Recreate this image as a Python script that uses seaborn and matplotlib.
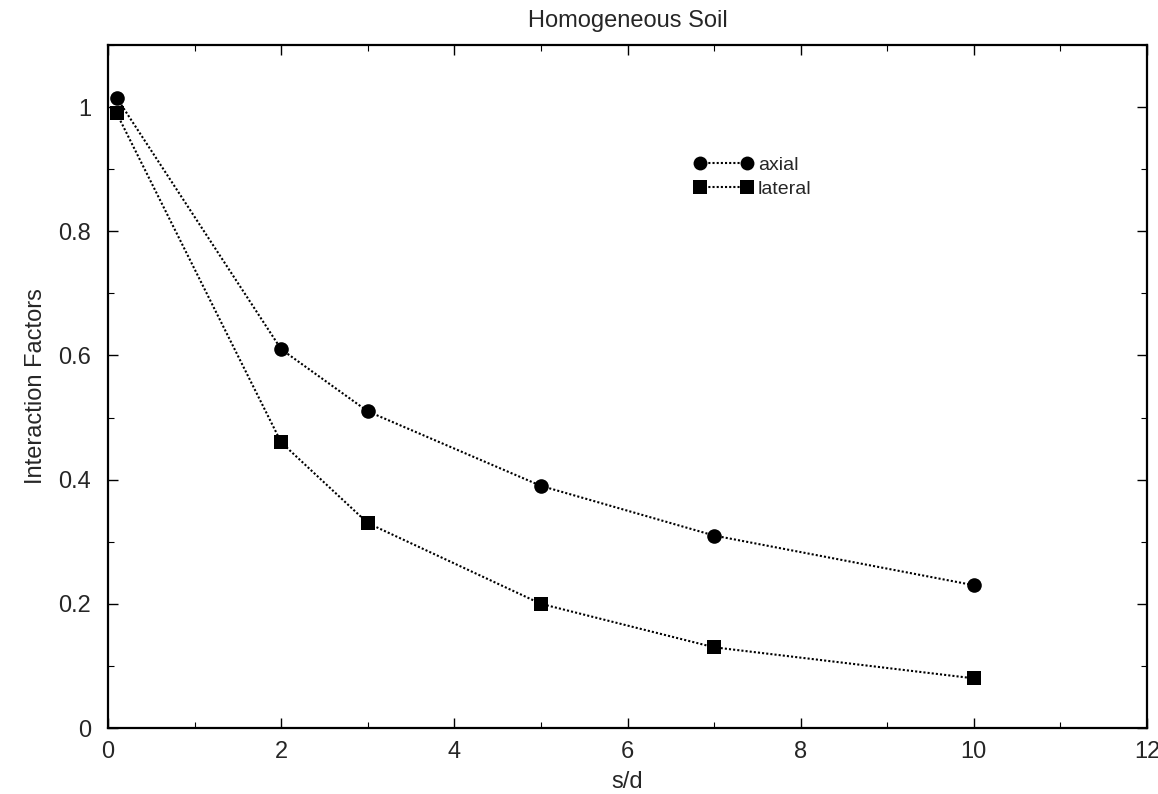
import matplotlib
matplotlib.use("Agg")
import matplotlib.pyplot as plt
import seaborn as sns
import pandas as pd
from matplotlib.ticker import MultipleLocator

s_d = [0.1, 2, 3, 5, 7, 10]
axial = [1.015, 0.61, 0.51, 0.39, 0.31, 0.23]
lateral = [0.99, 0.46, 0.33, 0.20, 0.13, 0.08]
x_ticks = [0, 2, 4, 6, 8, 10, 12]
y_ticks = [0, 0.2, 0.4, 0.6, 0.8, 1.0]
y_tick_labels = ["0", "0.2", "0.4", "0.6", "0.8", "1"]

df = pd.DataFrame({
    "s/d": s_d * 2,
    "value": axial + lateral,
    "series": ["axial"] * len(s_d) + ["lateral"] * len(s_d),
})

sns.set_theme(style="white")
plt.rcParams['font.family'] = ['Liberation Sans', 'DejaVu Sans']

fig = plt.figure(figsize=(11.58, 7.94), dpi=100)
ax = fig.add_axes([0.0933, 0.0831, 0.8972, 0.8602])

sns.lineplot(data=df, x="s/d", y="value", hue="series", style="series",
             palette={"axial": "black", "lateral": "black"},
             markers={"axial": "o", "lateral": "s"},
             dashes={"axial": (1, 1), "lateral": (1, 1)},
             markersize=10.5, linewidth=1.5, markeredgewidth=0,
             ax=ax, legend=True)

handles, labels = ax.get_legend_handles_labels()
for h in handles:
    h.set_markersize(10)
ax.legend(handles, labels, numpoints=2, frameon=False, fontsize=14,
          loc="upper left", bbox_to_anchor=(0.557, 0.848),
          handlelength=3.0, handletextpad=0.25, labelspacing=0.3,
          borderaxespad=0)

ax.set_xlim(0, 12)
ax.set_ylim(0, 1.1)
ax.set_xticks(x_ticks)
ax.set_xticklabels([str(v) for v in x_ticks])
ax.set_yticks(y_ticks)
ax.set_yticklabels(y_tick_labels)
ax.xaxis.set_minor_locator(MultipleLocator(1))
ax.yaxis.set_minor_locator(MultipleLocator(0.1))

ax.tick_params(which="both", direction="in", top=True, right=True,
               bottom=True, left=True, color="black")
ax.tick_params(which="major", length=7, width=1.0, labelsize=17)
ax.tick_params(which="minor", length=4, width=0.8)
ax.tick_params(axis="y", pad=12)
ax.tick_params(axis="x", pad=9)

for sp in ax.spines.values():
    sp.set_color("black")
    sp.set_linewidth(1.6)

ax.set_xlabel("s/d", fontsize=17, labelpad=6)
ax.set_ylabel("Interaction Factors", fontsize=17, labelpad=8)
ax.set_title("Homogeneous Soil", fontsize=17, pad=13)

fig.savefig("out.png", dpi=100)
